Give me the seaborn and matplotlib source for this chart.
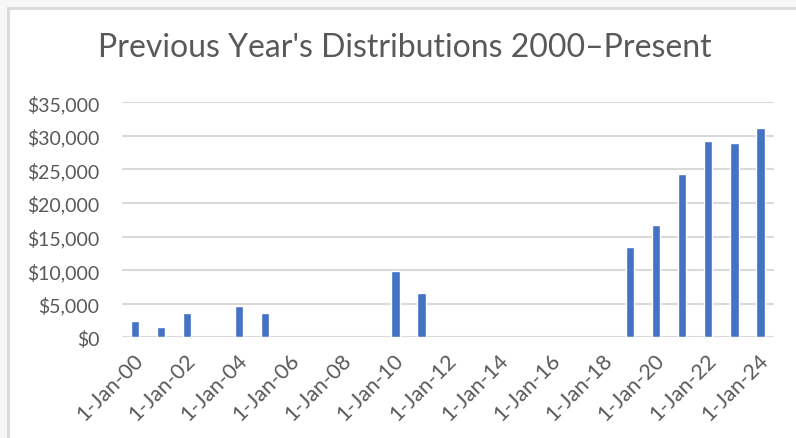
import matplotlib
matplotlib.use("Agg")
import matplotlib.pyplot as plt
import matplotlib.transforms as mtransforms
import seaborn as sns
import pandas as pd
from matplotlib.patches import Rectangle

years = [2000, 2001, 2002, 2004, 2005, 2010, 2011, 2019, 2020, 2021, 2022, 2023, 2024]
amounts = [2400, 1500, 3600, 4700, 3600, 9850, 6550, 13400, 16700, 24300, 29200, 29000, 31200]
tick_years = list(range(2000, 2025, 2))
tick_labels = [f"1-Jan-{y % 100:02d}" for y in tick_years]
y_ticks = [0, 5000, 10000, 15000, 20000, 25000, 30000, 35000]
y_labels = [f"${v:,}" for v in y_ticks]
title = "Previous Year's Distributions 2000\u2013Present"

sns.set_theme(style="white")
plt.rcParams['font.family'] = ['Lato', 'DejaVu Sans']

df = pd.DataFrame({"year": years, "amount": amounts})

fig = plt.figure(figsize=(7.96, 4.39), dpi=100)
fig.patch.set_facecolor("#f7f7f7")
# chart area (white) with border
fig.patches.append(Rectangle((8 / 796, -0.01), 1.0, 1.01 - 9 / 439, transform=fig.transFigure,
                             facecolor="white", edgecolor="#d9d9d9", linewidth=2, zorder=-5))

ax = fig.add_axes([121.7 / 796, 100.7 / 439, (773.5 - 121.7) / 796, (338.3 - 103.3) / 439])
ax.set_facecolor("none")
ax.set_zorder(2)

sns.barplot(data=df, x="year", y="amount", native_scale=True, width=0.32,
            color="#4472C4", saturation=1, ax=ax, zorder=3)

ax.set_xlim(1999.5, 2024.5)
ax.set_ylim(0, 35000)
ax.set_yticks(y_ticks)
ax.set_yticklabels(y_labels, fontsize=14)
ax.set_xticks(tick_years)
ax.set_xticklabels(tick_labels, rotation=45, ha="right", va="top", rotation_mode="anchor",
                   fontsize=15.5)
ax.tick_params(axis="both", length=0, labelcolor="#595959")
ax.tick_params(axis="y", pad=16)
ax.tick_params(axis="x", pad=9)
offset = mtransforms.ScaledTranslation(-2 / 100, 0, fig.dpi_scale_trans)
for lbl in ax.get_xticklabels():
    lbl.set_transform(lbl.get_transform() + offset)
ax.set_xlabel("")
ax.set_ylabel("")
for s in ax.spines.values():
    s.set_visible(False)
for v in y_ticks:
    ax.axhline(v, color="#d9d9d9", linewidth=1.5, zorder=1)

fig.text(405 / 796, 1 - 48 / 439, title, ha="center", va="center", fontsize=23, color="#595959")

fig.savefig("out.png", dpi=100)
